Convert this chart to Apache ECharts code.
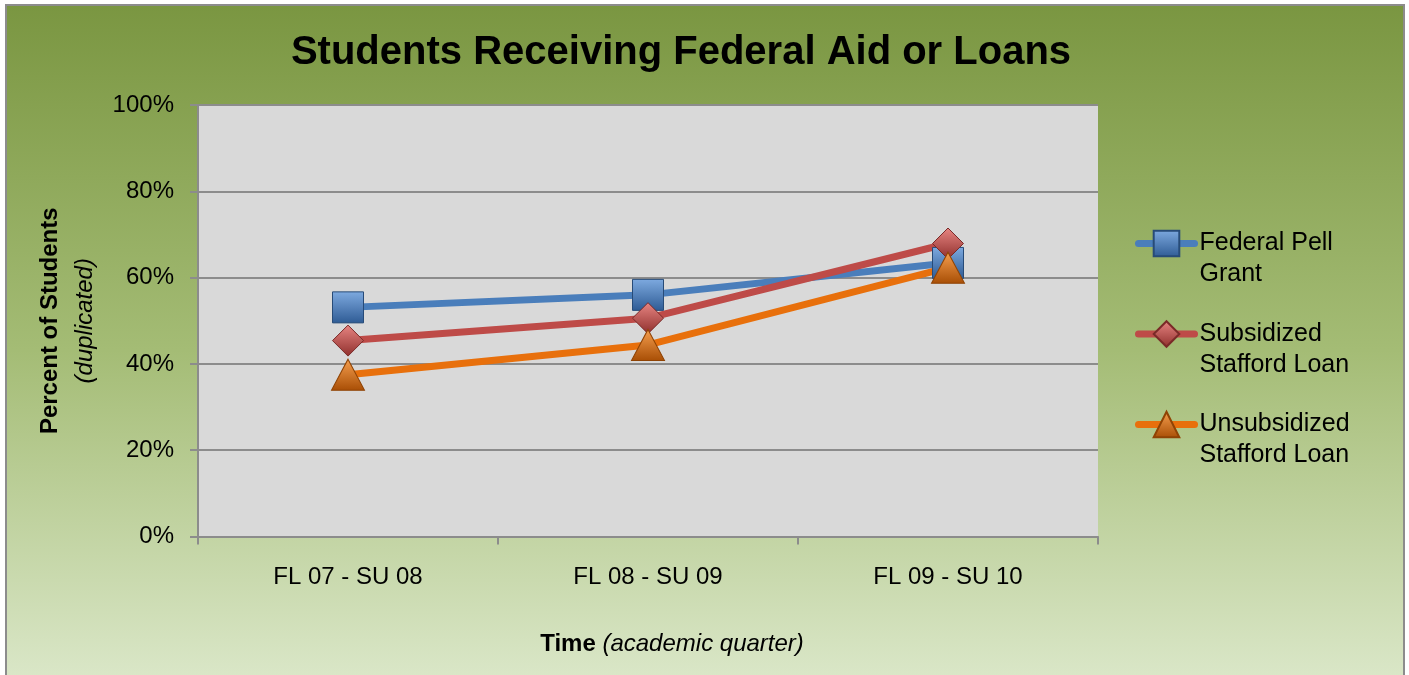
<!DOCTYPE html>
<html>
<head>
<meta charset="utf-8">
<script src="https://cdn.jsdelivr.net/npm/echarts@6/dist/echarts.min.js"></script>
<style>
html,body{margin:0;padding:0;background:#ffffff;}
#chart{width:1409px;height:675px;}
</style>
</head>
<body>
<div id="chart"></div>
<script>
const categories = ['FL 07 - SU 08', 'FL 08 - SU 09', 'FL 09 - SU 10'];
const seriesNames = ['Federal Pell\nGrant', 'Subsidized\nStafford Loan', 'Unsubsidized\nStafford Loan'];
const pellGrant = [53.1, 56.0, 63.4];
const subsidizedLoan = [45.4, 50.6, 67.9];
const unsubsidizedLoan = [37.5, 44.4, 62.3];
const yTickValues = [0, 20, 40, 60, 80, 100];

const FONT = "'Liberation Sans', Arial, sans-serif";
const chart = echarts.init(document.getElementById('chart'), null, {renderer: 'canvas'});

function grad(top, bottom) {
  return new echarts.graphic.LinearGradient(0, 0, 0, 1, [
    {offset: 0, color: top}, {offset: 1, color: bottom}
  ]);
}

const option = {
  backgroundColor: '#ffffff',
  animation: false,
  graphic: [{
    type: 'rect',
    z: -10,
    silent: true,
    shape: {x: 6, y: 5, width: 1398, height: 690},
    style: {
      fill: new echarts.graphic.LinearGradient(0, 0, 0, 1, [
        {offset: 0, color: '#7a9641'},
        {offset: 0.5, color: '#a4bc75'},
        {offset: 1, color: '#dde9cc'}
      ]),
      stroke: '#8c8c8c',
      lineWidth: 2
    }
  }],
  title: {
    text: 'Students Receiving Federal Aid or Loans',
    left: 676,
    top: 28,
    textAlign: 'center',
    textStyle: {fontFamily: FONT, fontSize: 40, fontWeight: 'bold', color: '#000'}
  },
  grid: {
    left: 198, right: 311, top: 105, bottom: 138.5,
    show: true, backgroundColor: '#d9d9d9', borderWidth: 0
  },
  legend: {
    left: 1130,
    top: 192,
    orient: 'vertical',
    itemWidth: 56,
    itemHeight: 32,
    itemGap: -2.5,
    data: seriesNames,
    formatter: function (name) { return ' \n' + name; },
    lineStyle: {width: 7, cap: 'round'},
    textStyle: {
      fontFamily: FONT, fontSize: 25, color: '#000', lineHeight: 31
    }
  },
  xAxis: {
    type: 'category',
    data: categories,
    boundaryGap: true,
    axisLine: {lineStyle: {color: '#8c8c8c', width: 2}},
    axisTick: {show: true, length: 8, lineStyle: {color: '#8c8c8c', width: 2}},
    axisLabel: {fontFamily: FONT, fontSize: 24, color: '#000', margin: 29, lineHeight: 24},
    name: '{b|Time}  {i|(academic quarter)}',
    nameLocation: 'middle',
    nameGap: 96,
    nameTextStyle: {
      padding: [0, 0, 0, 48],
      rich: {
        b: {fontFamily: FONT, fontSize: 24, fontWeight: 'bold', color: '#000'},
        i: {fontFamily: FONT, fontSize: 24, fontStyle: 'italic', color: '#000'}
      }
    }
  },
  yAxis: {
    type: 'value',
    min: 0, max: 100, interval: 20,
    axisLine: {show: true, lineStyle: {color: '#8c8c8c', width: 2}},
    axisTick: {show: true, length: 8, lineStyle: {color: '#8c8c8c', width: 2}},
    axisLabel: {
      fontFamily: FONT, fontSize: 24, color: '#000', margin: 24,
      padding: [5, 0, 0, 0],
      formatter: function (v) { return yTickValues.indexOf(v) >= 0 ? v + '%' : ''; }
    },
    splitLine: {lineStyle: {color: '#8c8c8c', width: 2}},
    name: '{b|Percent of Students}\n{i|(duplicated)}',
    nameLocation: 'middle',
    nameRotate: 90,
    nameGap: 95,
    nameTextStyle: {
      rich: {
        b: {fontFamily: FONT, fontSize: 24, fontWeight: 'bold', color: '#000', lineHeight: 35, align: 'center'},
        i: {fontFamily: FONT, fontSize: 24, fontStyle: 'italic', color: '#000', lineHeight: 35, align: 'center'}
      }
    }
  },
  series: [
    {
      name: seriesNames[0],
      type: 'line',
      data: pellGrant,
      symbol: 'rect',
      symbolSize: 31,
      lineStyle: {color: '#4a7ebb', width: 7, cap: 'round'},
      itemStyle: {color: grad('#7eaae0', '#2e5b94'), borderColor: '#274b78', borderWidth: 1}
    },
    {
      name: seriesNames[1],
      type: 'line',
      data: subsidizedLoan,
      symbol: 'diamond',
      symbolSize: [31, 31],
      lineStyle: {color: '#be4b48', width: 7, cap: 'round'},
      itemStyle: {color: grad('#e88683', '#8f2f2c'), borderColor: '#7a2a28', borderWidth: 1}
    },
    {
      name: seriesNames[2],
      type: 'line',
      data: unsubsidizedLoan,
      symbol: 'triangle',
      symbolSize: [33, 31],
      lineStyle: {color: '#e8700c', width: 7, cap: 'round'},
      itemStyle: {color: grad('#f7a050', '#a84e05'), borderColor: '#8f4304', borderWidth: 1}
    }
  ]
};
chart.setOption(option);
</script>
</body>
</html>
